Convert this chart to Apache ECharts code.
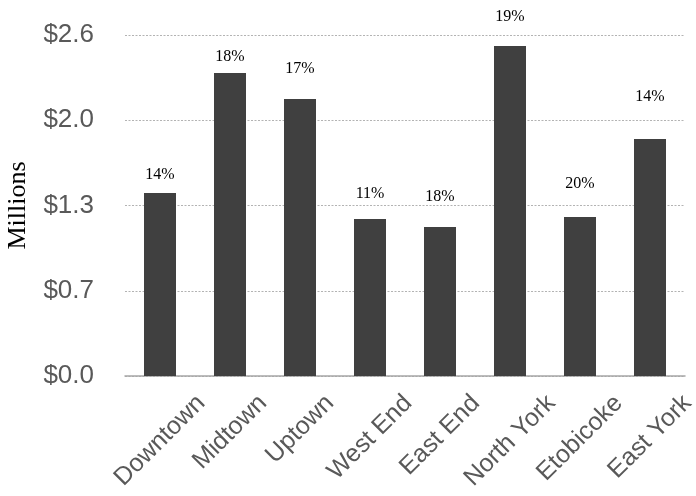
<!DOCTYPE html>
<html>
<head>
<meta charset="utf-8">
<script src="https://cdn.jsdelivr.net/npm/echarts@6/dist/echarts.min.js"></script>
<style>
  html, body { margin: 0; padding: 0; background: #fff; }
  #chart { width: 696px; height: 496px; }
</style>
</head>
<body>
<div id="chart"></div>
<script>
// neighbourhoods on the x axis
var areas = ['Downtown', 'Midtown', 'Uptown', 'West End', 'East End', 'North York', 'Etobicoke', 'East York'];
// bar heights, millions of dollars
var values = [1.395, 2.31, 2.112, 1.197, 1.136, 2.516, 1.212, 1.807];
// percentage shown above each bar
var shares = ['14%', '18%', '17%', '11%', '18%', '19%', '20%', '14%'];
// y tick labels (0 .. 2.6 by 0.65)
var tickLabels = ['$0.0', '$0.7', '$1.3', '$2.0', '$2.6'];

// how far above the bar each percent label sits (px)
var labelLift = [10, 8, 22, 17, 22, 21, 25, 34];

var sans = 'Liberation Sans, Arial, sans-serif';
var serif = 'Liberation Serif, Times New Roman, serif';
var xFont = 25;

// rotated category labels are centred under the bar with their tops lined up.
// verticalAlign top + a taller line pushes the text down its own normal,
// the same right padding cancels the sideways part, so it just moves down.
var ctx = document.createElement('canvas').getContext('2d');
ctx.font = xFont + 'px ' + sans;
var widths = areas.map(function (a) { return ctx.measureText(a).width; });
var minW = Math.min.apply(null, widths);
var baseLH = xFont;
var xMargin = 17 + 0.707 * (minW + 0.72 * xFont) / 2 - 0.707 * baseLH;

var chart = echarts.init(document.getElementById('chart'));

var option = {
  animation: false,
  grid: { left: 125, right: 11, top: 35, bottom: 120, outerBoundsMode: 'none' },
  xAxis: {
    type: 'category',
    data: areas.map(function (a, i) {
      var p = baseLH + (widths[i] - minW) / 2;
      return {
        value: a,
        textStyle: {
          align: 'center',
          verticalAlign: 'top',
          lineHeight: p,
          padding: [0, p, 0, 0]
        }
      };
    }),
    axisLine: { lineStyle: { color: '#a6a6a6', width: 1.5 } },
    axisTick: { show: false },
    axisLabel: {
      interval: 0,
      rotate: 45,
      align: 'center',
      verticalAlign: 'top',
      margin: xMargin,
      color: '#595959',
      fontFamily: sans,
      fontSize: xFont
    }
  },
  yAxis: {
    type: 'value',
    min: 0,
    max: 2.6,
    interval: 0.65,
    name: 'Millions',
    nameLocation: 'middle',
    nameRotate: 90,
    nameGap: 94,
    nameTextStyle: { fontFamily: serif, fontSize: 26, color: '#000' },
    axisLine: { show: false },
    axisTick: { show: false },
    axisLabel: {
      margin: 31,
      color: '#595959',
      fontFamily: sans,
      fontSize: 26,
      formatter: function (v, i) { return tickLabels[i]; }
    },
    splitLine: { lineStyle: { color: '#b3b3b3', type: [2, 1.5], width: 1 } }
  },
  series: [{
    type: 'bar',
    barWidth: 32,
    itemStyle: { color: '#404040' },
    data: values.map(function (v, i) {
      return {
        value: v,
        label: {
          show: true,
          position: 'top',
          distance: labelLift[i],
          formatter: shares[i],
          color: '#000',
          fontFamily: serif,
          fontSize: 16
        }
      };
    })
  }]
};

chart.setOption(option);
</script>
</body>
</html>
